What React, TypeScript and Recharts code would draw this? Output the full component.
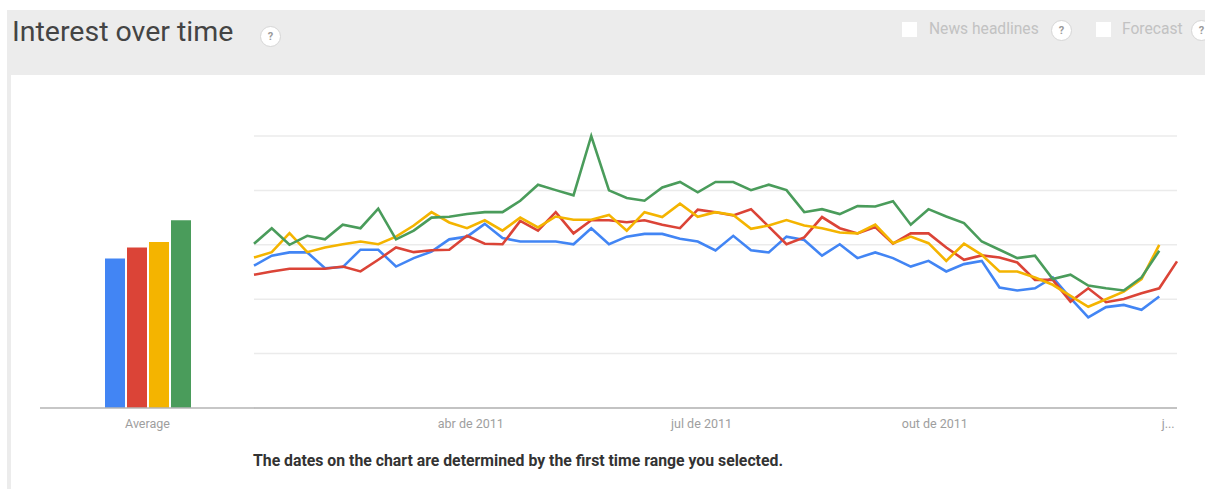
import { BarChart, Bar, LineChart, Line, XAxis, YAxis, CartesianGrid } from 'recharts';

// weekly interest values (0-100)
const blueValues = [52.3, 56, 57.2, 57.2, 51.4, 51.8, 58.2, 58.2, 52, 55.1, 57.5, 62, 63, 67.7, 62.5, 61.2, 61.2, 61.2, 60.2, 66.1, 60.2, 63, 64, 64, 62.2, 61.2, 57.9, 63.3, 58, 57.2, 63, 61.8, 56, 60.2, 55.1, 57.2, 55.1, 52, 54.1, 50.2, 52.9, 54.1, 44.3, 43.2, 44, 48, 40.4, 33.3, 37.1, 37.9, 36.1, 41];
const redValues = [49, 50.2, 51.2, 51.2, 51.2, 52, 50.2, 54.5, 59, 57.3, 58, 58.2, 63.3, 60.4, 60.2, 68.8, 65.2, 72, 64.2, 69, 69, 68.3, 69, 67.4, 66.1, 72.9, 72, 70.8, 73.1, 66.7, 60.2, 62.7, 70.2, 66.1, 64.2, 66.5, 60.4, 64.2, 64.2, 59, 54.5, 56.1, 55.3, 53.5, 47.1, 47.1, 39.1, 44, 38.9, 40.1, 42.2, 44, 53.9];
const yellowValues = [55.3, 57.3, 64.3, 57.3, 59, 60.2, 61.2, 60.2, 63, 67.1, 72, 68.2, 66.1, 69, 65.2, 70, 66.4, 70.4, 69.2, 69.2, 71, 65.2, 72, 70.2, 75.1, 70.3, 72, 71, 65.9, 67.1, 69.1, 67.1, 66.1, 64.5, 64.2, 67.4, 60.6, 63, 60.6, 54.1, 60.4, 56.3, 50.2, 50.2, 48, 45.3, 41.2, 37.2, 40, 42.8, 47.4, 60];
const greenValues = [60.4, 66.1, 60, 63.3, 62, 67.4, 66.1, 73.3, 62, 65.2, 70, 70.3, 71.3, 72, 72, 76.2, 82.1, 80.1, 78.2, 100, 80, 77.2, 76.2, 81.1, 83.1, 79.3, 83.1, 83.1, 80.1, 82.1, 80.1, 72, 73.1, 71.3, 74.2, 74.1, 76, 67.4, 73.1, 70.4, 68, 61.2, 58.2, 55.1, 56, 47.4, 49, 45, 44, 43.2, 48, 57.8];

const averages = [55, 59, 61, 69];
const seriesKeys = ['blue', 'red', 'yellow', 'green'];
const colors = ['#4285f4', '#db4437', '#f4b400', '#4a9c5b'];

const firstWeek = Date.UTC(2011, 0, 5, 12);
const WEEK = 7 * 24 * 3600 * 1000;

const tickDates = [Date.UTC(2011, 3, 1), Date.UTC(2011, 6, 1), Date.UTC(2011, 9, 1), Date.UTC(2012, 0, 1)];
const tickLabels = ['abr de 2011', 'jul de 2011', 'out de 2011', 'j...'];

const lineData = redValues.map((r, i) => ({
  date: firstWeek + i * WEEK,
  blue: blueValues[i] ?? null,
  red: r,
  yellow: yellowValues[i] ?? null,
  green: greenValues[i] ?? null,
}));

const barData = [
  { name: 'Average', ...Object.fromEntries(seriesKeys.map((k, i) => [k, averages[i]])) },
];

const font = 'Roboto, "Open Sans", sans-serif';
const axisStroke = '#b4b4b4';
const tickStyle = { fill: '#9e9e9e', fontSize: 12.5, fontFamily: font };

function HelpIcon({ x, y }: { x: number; y: number }) {
  return (
    <div
      style={{
        position: 'absolute', left: x - 10, top: y - 10, width: 19, height: 19,
        borderRadius: '50%', background: '#fff', border: '1px solid #d6d6d6',
        fontSize: 11, fontWeight: 700, color: '#9a9a9a', textAlign: 'center', lineHeight: '19px',
      }}
    >
      ?
    </div>
  );
}

export default function App() {
  return (
    <div style={{ position: 'absolute', left: 0, top: 0, width: 1205, height: 489, overflow: 'hidden', background: '#fff', fontFamily: font }}>
      {/* grey frame + header */}
      <div style={{ position: 'absolute', left: 7, top: 10, width: 1210, height: 490, background: '#ececec' }} />
      <div style={{ position: 'absolute', left: 11, top: 75, width: 1210, height: 420, background: '#fff' }} />

      <div style={{ position: 'absolute', left: 12, top: 14, fontSize: 28.5, color: '#444', lineHeight: '36px', whiteSpace: 'nowrap' }}>
        Interest over time
      </div>
      <HelpIcon x={270} y={36} />

      <div style={{ position: 'absolute', left: 902, top: 22, width: 15, height: 15, background: '#fff' }} />
      <div style={{ position: 'absolute', left: 929, top: 19, fontSize: 15.6, color: '#c2c2c2', lineHeight: '20px', whiteSpace: 'nowrap' }}>
        News headlines
      </div>
      <HelpIcon x={1061} y={30} />
      <div style={{ position: 'absolute', left: 1096, top: 22, width: 15, height: 15, background: '#fff' }} />
      <div style={{ position: 'absolute', left: 1122, top: 19, fontSize: 15.6, color: '#c2c2c2', lineHeight: '20px', whiteSpace: 'nowrap' }}>
        Forecast
      </div>
      <HelpIcon x={1201} y={30} />

      {/* average bars */}
      <div style={{ position: 'absolute', left: 40, top: 126 }}>
        <BarChart width={215} height={312} data={barData} margin={{ top: 10, right: 0, left: 0, bottom: 0 }} barGap={2}>
          <XAxis
            dataKey="name"
            height={30}
            axisLine={{ stroke: axisStroke, strokeWidth: 1.5 }}
            tickLine={false}
            tickSize={0}
            tickMargin={11}
            tick={tickStyle}
          />
          <YAxis hide domain={[0, 100]} />
          {seriesKeys.map((k, i) => (
            <Bar key={k} dataKey={k} fill={colors[i]} barSize={20} isAnimationActive={false} />
          ))}
        </BarChart>
      </div>

      {/* interest over time lines */}
      <div style={{ position: 'absolute', left: 240, top: 126 }}>
        <LineChart width={950} height={312} data={lineData} margin={{ top: 10, right: 13, left: 14, bottom: 0 }}>
          <CartesianGrid vertical={false} stroke="#ebebeb" strokeWidth={1.5} />
          <XAxis
            dataKey="date"
            type="number"
            scale="time"
            domain={[lineData[0].date, lineData[lineData.length - 1].date]}
            ticks={tickDates}
            tickFormatter={(v: number) => tickLabels[tickDates.indexOf(v)]}
            height={30}
            axisLine={{ stroke: axisStroke, strokeWidth: 1.5 }}
            tickLine={false}
            tickSize={0}
            tickMargin={11}
            tick={tickStyle}
          />
          <YAxis hide domain={[0, 100]} ticks={[0, 20, 40, 60, 80, 100]} />
          {seriesKeys.map((k, i) => (
            <Line
              key={k}
              type="linear"
              dataKey={k}
              stroke={colors[i]}
              strokeWidth={2.6}
              dot={false}
              connectNulls={false}
              isAnimationActive={false}
            />
          ))}
        </LineChart>
      </div>

      <div style={{ position: 'absolute', left: 253, top: 451, fontSize: 15.8, fontWeight: 700, color: '#333', whiteSpace: 'nowrap' }}>
        The dates on the chart are determined by the first time range you selected.
      </div>
    </div>
  );
}
